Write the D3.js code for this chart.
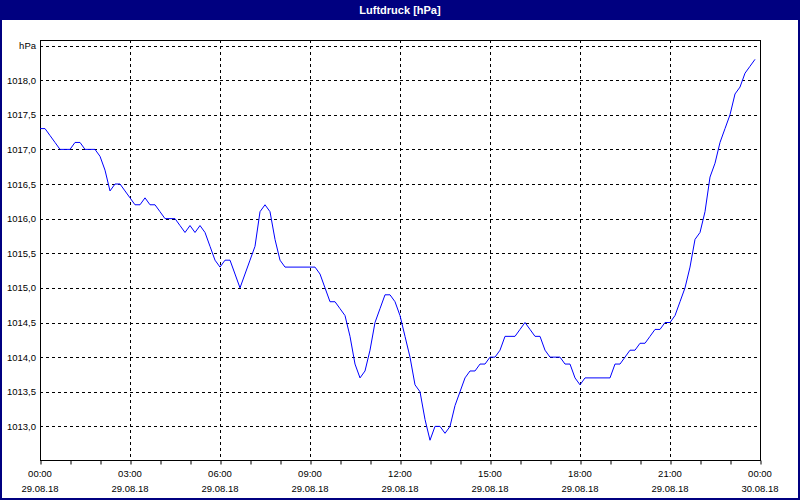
<!DOCTYPE html>
<html>
<head>
<meta charset="utf-8">
<script src="https://cdn.jsdelivr.net/npm/d3@7"></script>
<style>
html,body{margin:0;padding:0;background:#fff;}
svg{display:block;}
text{font-family:"Liberation Sans",Arial,sans-serif;}
</style>
</head>
<body>
<svg id="chart" width="800" height="500"></svg>
<script>
// ---- data ----
const title = "Luftdruck [hPa]";
const unitLabel = "hPa";
const startTime = "2018-08-29T00:00:00Z";
const endTime = "2018-08-30T00:00:00Z";
const intervalMinutes = 10;
const values = [
  1017.3,1017.3,1017.2,1017.1,1017.0,1017.0,1017.0,1017.1,1017.1,1017.0,1017.0,1017.0,
  1016.9,1016.7,1016.4,1016.5,1016.5,1016.4,1016.3,1016.2,1016.2,1016.3,1016.2,1016.2,
  1016.1,1016.0,1016.0,1016.0,1015.9,1015.8,1015.9,1015.8,1015.9,1015.8,1015.6,1015.4,
  1015.3,1015.4,1015.4,1015.2,1015.0,1015.2,1015.4,1015.6,1016.1,1016.2,1016.1,1015.7,
  1015.4,1015.3,1015.3,1015.3,1015.3,1015.3,1015.3,1015.3,1015.2,1015.0,1014.8,1014.8,
  1014.7,1014.6,1014.3,1013.9,1013.7,1013.8,1014.1,1014.5,1014.7,1014.9,1014.9,1014.8,
  1014.6,1014.3,1014.0,1013.6,1013.5,1013.1,1012.8,1013.0,1013.0,1012.9,1013.0,1013.3,
  1013.5,1013.7,1013.8,1013.8,1013.9,1013.9,1014.0,1014.0,1014.1,1014.3,1014.3,1014.3,
  1014.4,1014.5,1014.4,1014.3,1014.3,1014.1,1014.0,1014.0,1014.0,1013.9,1013.9,1013.7,
  1013.6,1013.7,1013.7,1013.7,1013.7,1013.7,1013.7,1013.9,1013.9,1014.0,1014.1,1014.1,
  1014.2,1014.2,1014.3,1014.4,1014.4,1014.5,1014.5,1014.6,1014.8,1015.0,1015.3,1015.7,
  1015.8,1016.1,1016.6,1016.8,1017.1,1017.3,1017.5,1017.8,1017.9,1018.1,1018.2,1018.3
];
const yTicks = [1013.0,1013.5,1014.0,1014.5,1015.0,1015.5,1016.0,1016.5,1017.0,1017.5,1018.0,1018.5];
const yDomain = [1012.5, 1018.5];

// ---- drawing ----
const svg = d3.select("#chart");
const W = 800, H = 500;
const plot = {left: 40, right: 760, top: 40, bottom: 460};

const t0 = new Date(startTime);
const data = values.map((v, i) => ({t: new Date(t0.getTime() + i * intervalMinutes * 60000), v}));

const x = d3.scaleUtc().domain([new Date(startTime), new Date(endTime)]).range([plot.left, plot.right]);
const y = d3.scaleLinear().domain(yDomain).range([461, 45.5]);

// window frame
svg.append("rect").attr("x", 0).attr("y", 0).attr("width", W).attr("height", H).attr("fill", "#000080");
svg.append("rect").attr("x", 2).attr("y", 20).attr("width", W - 4).attr("height", H - 22).attr("fill", "#ffffff");
svg.append("text").attr("x", W / 2).attr("y", 14).attr("text-anchor", "middle")
  .attr("fill", "#fff").attr("font-weight", "bold").attr("font-size", "11px").text(title);

// horizontal gridlines
svg.append("g").selectAll("line").data(yTicks).join("line")
  .attr("x1", plot.left).attr("x2", plot.right)
  .attr("y1", d => Math.round(y(d)) + 0.5).attr("y2", d => Math.round(y(d)) + 0.5)
  .attr("stroke", "#000").attr("stroke-width", 1).attr("stroke-dasharray", "3,3");

// vertical gridlines every 3 hours
const majorTicks = x.ticks(d3.utcHour.every(3));
svg.append("g").selectAll("line").data(majorTicks.slice(1, -1)).join("line")
  .attr("x1", d => Math.round(x(d)) + 0.5).attr("x2", d => Math.round(x(d)) + 0.5)
  .attr("y1", plot.top).attr("y2", plot.bottom)
  .attr("stroke", "#000").attr("stroke-width", 1).attr("stroke-dasharray", "3,3");

// x axis
const fmtTime = d3.utcFormat("%H:%M");
const fmtDate = d3.utcFormat("%d.%m.%y");
const xAxis = d3.axisBottom(x).ticks(d3.utcHour.every(1)).tickSize(4).tickSizeOuter(0)
  .tickFormat(() => "");
const gx = svg.append("g").attr("transform", `translate(0.5,${plot.bottom + 0.5})`).call(xAxis);
gx.select(".domain").remove();
gx.selectAll(".tick line").attr("stroke", "#000");
const gxl = svg.append("g");
majorTicks.forEach(d => {
  const t = gxl.append("text").attr("x", x(d)).attr("text-anchor", "middle")
    .attr("font-size", "9.5px").attr("fill", "#000");
  t.append("tspan").attr("x", x(d)).attr("y", 477).text(fmtTime(d));
  t.append("tspan").attr("x", x(d)).attr("y", 492).text(fmtDate(d));
});

// y axis labels
const yAxis = d3.axisLeft(y).tickValues(yTicks).tickSize(0).tickPadding(4)
  .tickFormat(d => d === yTicks[yTicks.length - 1] ? unitLabel : d3.format(".1f")(d).replace(".", ","));
const gy = svg.append("g").attr("transform", `translate(${plot.left},0)`).call(yAxis);
gy.select(".domain").remove();
gy.selectAll(".tick text").attr("font-size", "9.5px").attr("fill", "#000")
  .attr("font-family", "Liberation Sans, Arial, sans-serif");

// plot frame
svg.append("rect").attr("x", plot.left + 0.5).attr("y", plot.top + 0.5)
  .attr("width", plot.right - plot.left).attr("height", plot.bottom - plot.top)
  .attr("fill", "none").attr("stroke", "#000").attr("stroke-width", 1);

// line
const line = d3.line().x(d => x(d.t)).y(d => y(d.v));
svg.append("path").datum(data).attr("d", line)
  .attr("fill", "none").attr("stroke", "#0000ff").attr("stroke-width", 1);
</script>
</body>
</html>
